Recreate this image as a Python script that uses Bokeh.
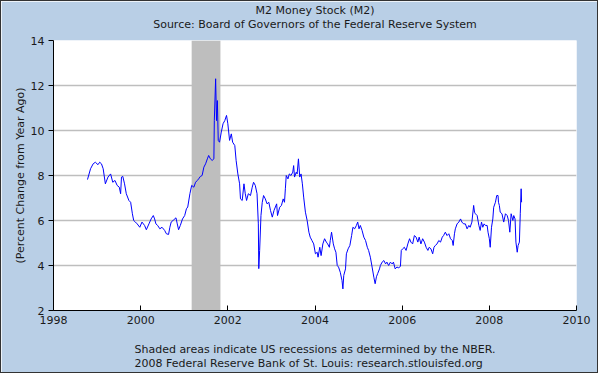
from bokeh.plotting import figure
from bokeh.models import Range1d, FixedTicker, Title
from bokeh.embed import file_html
from bokeh.resources import INLINE

# ---- data (decimal years, % change from year ago) ----
years = [
    1998.78, 1998.85, 1998.91, 1998.96, 1999.02, 1999.06, 1999.10, 1999.14, 1999.19, 1999.25,
    1999.31, 1999.36, 1999.41, 1999.46, 1999.51, 1999.54, 1999.56, 1999.59, 1999.63, 1999.67,
    1999.73, 1999.77, 1999.81, 1999.84, 1999.88, 1999.92, 1999.98, 2000.03, 2000.09, 2000.13,
    2000.19, 2000.24, 2000.29, 2000.32, 2000.35, 2000.39, 2000.44, 2000.49, 2000.55, 2000.59,
    2000.64, 2000.67, 2000.70, 2000.76, 2000.81, 2000.84, 2000.87, 2000.91, 2000.96, 2001.01,
    2001.05, 2001.08, 2001.13, 2001.17, 2001.22, 2001.26, 2001.30, 2001.33, 2001.37, 2001.41,
    2001.45, 2001.49, 2001.53, 2001.56, 2001.60, 2001.64, 2001.68, 2001.69, 2001.72, 2001.74,
    2001.76, 2001.78, 2001.81, 2001.85, 2001.89, 2001.93, 2001.97, 2002.00, 2002.04, 2002.08,
    2002.11, 2002.16, 2002.19, 2002.23, 2002.27, 2002.29, 2002.33, 2002.37, 2002.40, 2002.43,
    2002.47, 2002.52, 2002.56, 2002.59, 2002.63, 2002.67, 2002.70, 2002.71, 2002.73, 2002.76,
    2002.79, 2002.82, 2002.86, 2002.90, 2002.94, 2002.98, 2003.02, 2003.06, 2003.12, 2003.14,
    2003.19, 2003.23, 2003.27, 2003.30, 2003.32, 2003.34, 2003.38, 2003.41, 2003.45, 2003.49,
    2003.51, 2003.53, 2003.57, 2003.59, 2003.62, 2003.65, 2003.68, 2003.71, 2003.74, 2003.78,
    2003.82, 2003.86, 2003.89, 2003.93, 2003.97, 2004.01, 2004.05, 2004.07, 2004.11, 2004.14,
    2004.18, 2004.22, 2004.26, 2004.29, 2004.33, 2004.35, 2004.38, 2004.42, 2004.45, 2004.48,
    2004.51, 2004.54, 2004.58, 2004.62, 2004.64, 2004.66, 2004.70, 2004.72, 2004.76, 2004.80,
    2004.84, 2004.87, 2004.91, 2004.95, 2004.98, 2005.01, 2005.04, 2005.08, 2005.12, 2005.16,
    2005.20, 2005.23, 2005.27, 2005.31, 2005.35, 2005.38, 2005.41, 2005.44, 2005.48, 2005.50,
    2005.54, 2005.58, 2005.62, 2005.65, 2005.69, 2005.73, 2005.77, 2005.80, 2005.84, 2005.88,
    2005.92, 2005.96, 2005.98, 2006.01, 2006.05, 2006.09, 2006.13, 2006.17, 2006.20, 2006.24,
    2006.28, 2006.32, 2006.36, 2006.39, 2006.43, 2006.47, 2006.51, 2006.55, 2006.59, 2006.62,
    2006.66, 2006.70, 2006.73, 2006.76, 2006.80, 2006.84, 2006.88, 2006.92, 2006.95, 2006.99,
    2007.03, 2007.07, 2007.11, 2007.15, 2007.17, 2007.20, 2007.22, 2007.26, 2007.30, 2007.34,
    2007.37, 2007.41, 2007.45, 2007.49, 2007.53, 2007.56, 2007.60, 2007.64, 2007.66, 2007.68,
    2007.72, 2007.76, 2007.79, 2007.82, 2007.85, 2007.88, 2007.91, 2007.95, 2007.97, 2008.00,
    2008.02, 2008.05, 2008.08, 2008.10, 2008.14, 2008.17, 2008.20, 2008.21, 2008.23, 2008.25,
    2008.29, 2008.33, 2008.37, 2008.41, 2008.44, 2008.47, 2008.50, 2008.54, 2008.56, 2008.59,
    2008.61, 2008.64, 2008.66, 2008.69, 2008.71, 2008.73, 2008.74,
]
m2_pct = [
    7.82, 8.30, 8.52, 8.59, 8.48, 8.59, 8.52, 8.30, 7.63, 7.93,
    8.07, 7.70, 7.78, 7.56, 7.48, 7.19, 7.93, 7.96, 7.63, 7.19,
    6.89, 6.81, 6.30, 6.00, 5.93, 5.85, 5.70, 5.93, 5.78, 5.59,
    5.85, 6.07, 6.22, 6.07, 5.85, 5.78, 5.63, 5.70, 5.56, 5.41,
    5.38, 5.70, 5.93, 6.03, 6.12, 5.85, 5.59, 5.78, 6.07, 6.22,
    6.52, 6.60, 7.19, 7.56, 7.48, 7.70, 7.78, 7.85, 7.96, 8.00,
    8.37, 8.52, 8.74, 8.89, 8.74, 8.67, 8.74, 10.44, 12.30, 10.44,
    11.33, 9.56, 9.48, 9.93, 10.30, 10.44, 10.67, 10.30, 9.56, 9.85,
    9.48, 9.33, 8.67, 8.07, 7.63, 6.96, 6.89, 7.63, 7.19, 6.89,
    7.19, 7.11, 7.48, 7.70, 7.56, 7.19, 5.85, 3.86, 4.67, 6.22,
    6.81, 7.11, 6.96, 6.74, 6.81, 6.44, 6.15, 6.45, 6.74, 6.22,
    6.59, 6.67, 6.96, 6.81, 7.41, 8.00, 7.85, 8.07, 8.00, 8.15,
    8.44, 7.93, 8.15, 8.07, 8.74, 7.93, 8.07, 7.63, 7.04, 6.37,
    6.00, 5.48, 5.26, 5.11, 4.96, 4.52, 4.59, 4.37, 4.81, 4.44,
    4.96, 5.19, 5.04, 4.96, 4.81, 5.11, 5.48, 4.96, 4.74, 4.59,
    4.00, 3.93, 3.70, 3.33, 2.96, 3.56, 3.85, 4.52, 4.74, 4.89,
    5.33, 5.70, 5.63, 5.78, 5.93, 5.63, 5.78, 5.56, 5.26, 5.11,
    4.81, 4.67, 4.37, 3.93, 3.48, 3.19, 3.50, 3.65, 3.85, 4.00,
    4.15, 4.22, 4.07, 4.15, 4.00, 4.15, 4.07, 4.15, 3.85, 3.93,
    3.90, 3.96, 4.67, 4.74, 4.81, 4.67, 4.96, 5.19, 5.04, 4.96,
    5.33, 5.26, 5.04, 5.26, 4.96, 5.19, 5.04, 4.81, 4.67, 4.81,
    4.74, 4.52, 4.81, 4.89, 4.96, 5.11, 5.04, 5.26, 5.33, 5.48,
    5.33, 5.41, 5.19, 5.11, 4.89, 5.41, 5.63, 5.85, 5.93, 6.07,
    5.93, 5.85, 5.85, 5.63, 5.78, 5.70, 5.93, 6.67, 6.37, 6.30,
    6.22, 5.78, 5.56, 5.93, 5.70, 5.85, 5.78, 5.78, 5.48, 5.19,
    4.81, 5.70, 6.07, 6.59, 6.81, 7.11, 7.11, 6.81, 6.67, 6.37,
    6.30, 5.93, 6.30, 6.22, 6.00, 5.48, 6.30, 6.00, 6.22, 6.07,
    5.04, 4.59, 4.89, 5.04, 6.30, 7.41, 6.81,
]
recession_start = [2001.17]
recession_end = [2001.83]
x_ticks = [1998, 2000, 2002, 2004, 2006, 2008, 2010]
y_ticks = [2, 4, 6, 8, 10, 12, 14]

title_lines = ["M2 Money Stock (M2)",
               "Source: Board of Governors of the Federal Reserve System"]
note_lines = ["Shaded areas indicate US recessions as determined by the NBER.",
              "2008 Federal Reserve Bank of St. Louis: research.stlouisfed.org"]
y_label = "(Percent Change from Year Ago)"

FONT = "DejaVu Sans"
FS = "11px"
BG = "#B9CFE6"
TXT = "#1a1a1a"

p = figure(width=598, height=373, output_backend="svg", toolbar_location=None,
           x_range=Range1d(x_ticks[0], x_ticks[-1]), y_range=Range1d(y_ticks[0], y_ticks[-1]),
           min_border_left=52, min_border_right=23, min_border_top=39, min_border_bottom=64)
p.styles = {"border": "1px solid #333333"}
p.border_fill_color = BG
p.background_fill_color = "white"
p.outline_line_color = None

p.xaxis.ticker = FixedTicker(ticks=x_ticks)
p.yaxis.ticker = FixedTicker(ticks=y_ticks)
for ax in (p.xaxis, p.yaxis):
    ax.axis_line_color = "black"
    ax.major_tick_line_color = "black"
    ax.minor_tick_line_color = None
    ax.major_label_text_font = FONT
    ax.major_label_text_font_size = FS
    ax.major_label_text_color = TXT
p.xaxis.major_tick_in = 5
p.xaxis.major_tick_out = 0
p.xaxis.major_label_standoff = 5
p.yaxis.major_tick_in = 0
p.yaxis.major_tick_out = 5
p.yaxis.major_label_standoff = 4
p.yaxis.axis_label = y_label
p.yaxis.axis_label_text_font = FONT
p.yaxis.axis_label_text_font_size = FS
p.yaxis.axis_label_text_font_style = "normal"
p.yaxis.axis_label_text_color = TXT
p.yaxis.axis_label_standoff = 1

p.xgrid.visible = False
p.ygrid.grid_line_color = "#BEBEBE"
p.ygrid.grid_line_width = 1.5

p.quad(left=recession_start, right=recession_end,
       bottom=[y_ticks[0]], top=[y_ticks[-1]],
       fill_color="#BEBEBE", line_color=None)
p.line(years, m2_pct, line_color="#0000FF", line_width=1)

def make_title(text, standoff, line_height=1.2):
    return Title(text=text, align="center", text_font=FONT, text_font_size=FS,
                 text_font_style="normal", text_color=TXT, standoff=standoff, offset=0,
                 text_line_height=line_height)

# above panels stack outward from the frame: first added is nearest the frame
p.add_layout(make_title(title_lines[1] + "\n", 0, 0.72), "above")
p.add_layout(make_title(title_lines[0], 0), "above")
# below: one block, a blank first line as spacing below the tick labels
p.add_layout(make_title("\n" + "\n".join(note_lines), 0, 1.1), "below")

open("out.html", "w").write(file_html(p, INLINE))
